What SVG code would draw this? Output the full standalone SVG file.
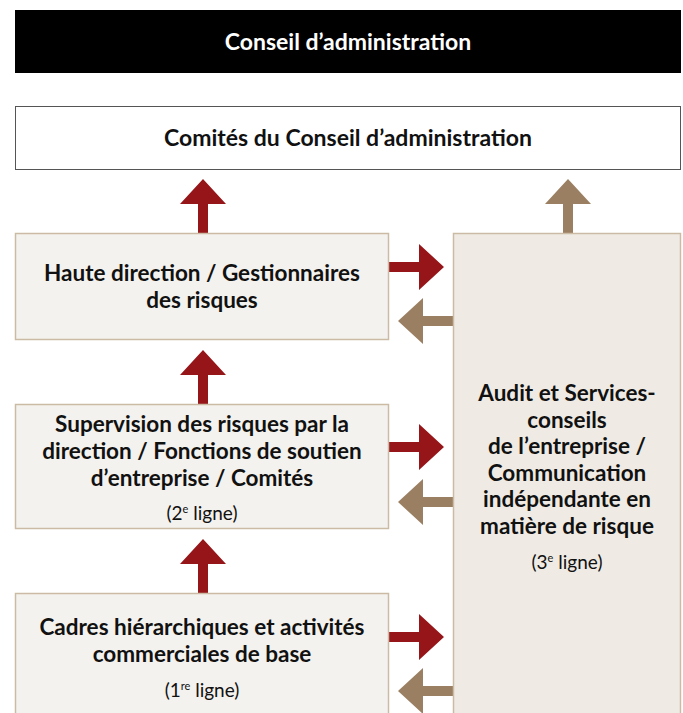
<svg xmlns="http://www.w3.org/2000/svg" xmlns:xlink="http://www.w3.org/1999/xlink" width="683" height="713" viewBox="0 0 683 713">
<style>
.t{font-family:Lato,"Liberation Sans",sans-serif;font-weight:bold;font-size:22.5px;fill:#111;text-anchor:middle}
.h{font-size:23px}
.n{font-family:Lato,"Liberation Sans",sans-serif;font-weight:normal;font-size:19px;fill:#111;text-anchor:middle}
.sup{font-size:11px}
.box{fill:#f4f2ee;stroke:#cbbba5;stroke-width:1.5}
.red{fill:#951519}
.brn{fill:#9b7f62}
</style>
<defs>
<path id="arr" d="M0,0 L23,25 L5,25 L5,55 L-5,55 L-5,25 L-23,25 Z"/>
</defs>
<rect width="683" height="713" fill="#fff"/>
<g id="connectors">
<use xlink:href="#arr" class="red" transform="translate(203,179)"/>
<use xlink:href="#arr" class="red" transform="translate(203,350)"/>
<use xlink:href="#arr" class="red" transform="translate(203,539)"/>
<use xlink:href="#arr" class="brn" transform="translate(568,179)"/>
<use xlink:href="#arr" class="red" transform="translate(444,267) rotate(90)"/>
<use xlink:href="#arr" class="red" transform="translate(444,447) rotate(90)"/>
<use xlink:href="#arr" class="red" transform="translate(444,637) rotate(90)"/>
<use xlink:href="#arr" class="brn" transform="translate(398,321) rotate(-90)"/>
<use xlink:href="#arr" class="brn" transform="translate(398,502) rotate(-90)"/>
<use xlink:href="#arr" class="brn" transform="translate(398,691) rotate(-90)"/>
</g>
<g id="conseil">
<rect x="15" y="10" width="666" height="63" fill="#000"/>
<text x="348" y="50" class="t h" style="fill:#fff">Conseil d’administration</text>
</g>
<g id="comites">
<rect x="15.5" y="106.5" width="665" height="63" fill="#fff" stroke="#555" stroke-width="1"/>
<text x="348" y="146" class="t h">Comités du Conseil d’administration</text>
</g>
<g id="haute">
<rect x="15.5" y="233.5" width="373" height="106" class="box"/>
<text x="202" y="281" class="t">Haute direction / Gestionnaires</text>
<text x="202" y="308" class="t">des risques</text>
</g>
<g id="supervision">
<rect x="15.5" y="404.5" width="373" height="124" class="box"/>
<text x="202" y="432" class="t">Supervision des risques par la</text>
<text x="202" y="459" class="t">direction / Fonctions de soutien</text>
<text x="202" y="486" class="t">d’entreprise / Comités</text>
<text x="202" y="520" class="n">(2<tspan class="sup" dy="-7">e</tspan><tspan dy="7"> ligne)</tspan></text>
</g>
<g id="cadres">
<rect x="15.5" y="593.5" width="373" height="130" class="box"/>
<text x="202" y="635" class="t">Cadres hiérarchiques et activités</text>
<text x="202" y="662" class="t">commerciales de base</text>
<text x="202" y="697" class="n">(1<tspan class="sup" dy="-7">re</tspan><tspan dy="7"> ligne)</tspan></text>
</g>
<g id="audit">
<rect x="453.5" y="233.5" width="227" height="490" class="box" style="fill:#efebe4"/>
<text x="567" y="401" class="t">Audit et Services-</text>
<text x="567" y="428" class="t">conseils</text>
<text x="567" y="454" class="t">de l’entreprise /</text>
<text x="567" y="481" class="t">Communication</text>
<text x="567" y="507" class="t">indépendante en</text>
<text x="567" y="534" class="t">matière de risque</text>
<text x="567" y="569" class="n">(3<tspan class="sup" dy="-7">e</tspan><tspan dy="7"> ligne)</tspan></text>
</g>
</svg>
